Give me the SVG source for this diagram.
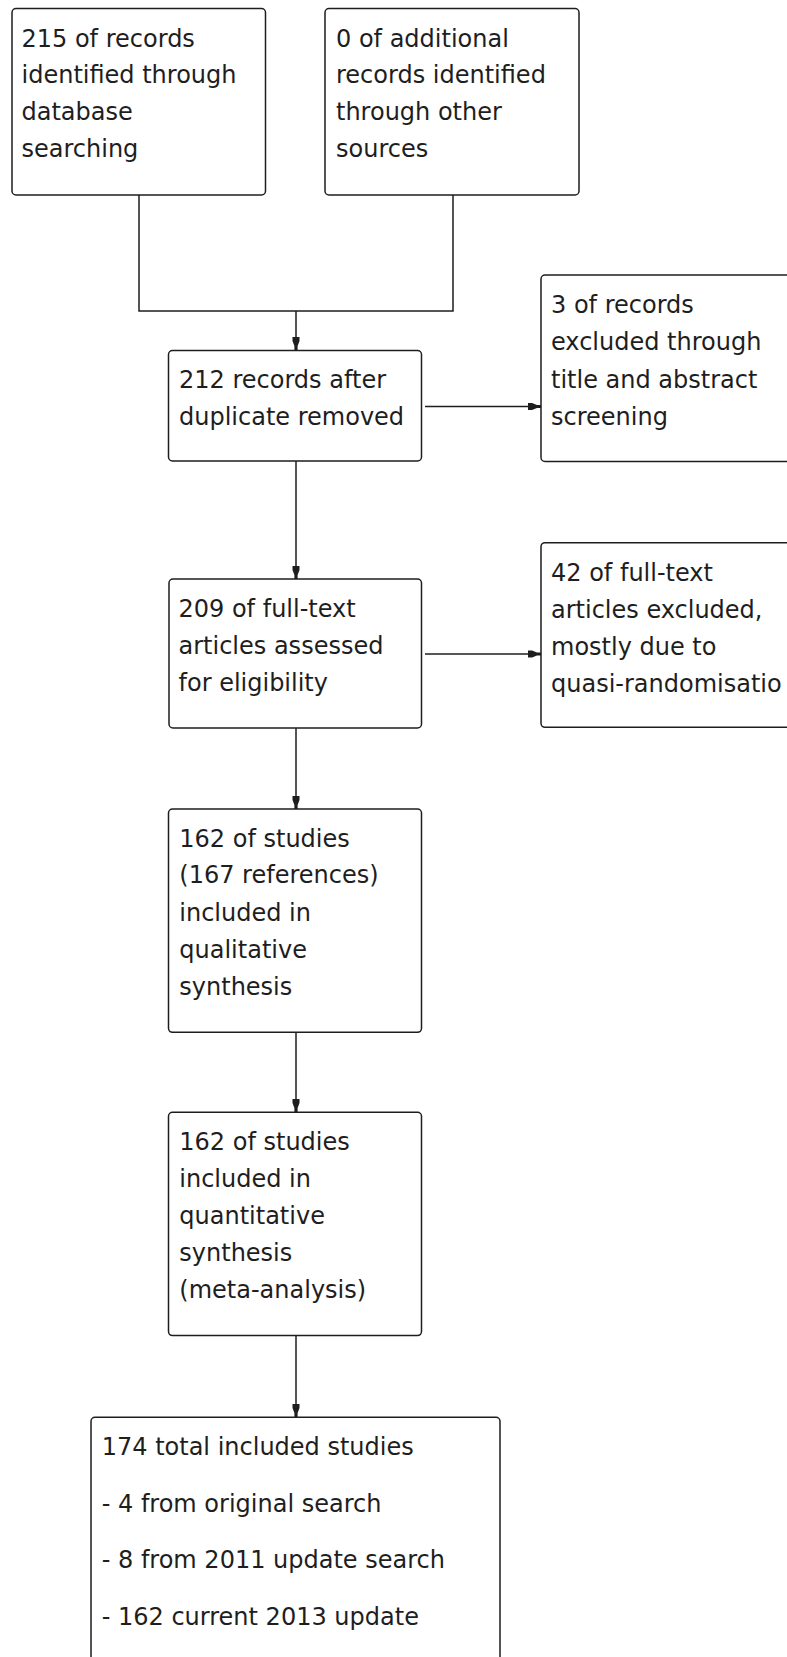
<svg xmlns="http://www.w3.org/2000/svg" width="787" height="1657" viewBox="0 0 787 1657">
<defs>
<style>
.box{fill:#ffffff;stroke:#1e1e1e;stroke-width:1.5}
.t{font-family:"DejaVu Sans","Liberation Sans",sans-serif;font-size:24px;fill:#1e1e1e}
.c{fill:none;stroke:#1e1e1e;stroke-width:1.5}
</style>
<marker id="ah" viewBox="-14 -4 15 8" refX="0" refY="0" markerWidth="15" markerHeight="8" markerUnits="userSpaceOnUse" orient="auto">
<path d="M-13,-3.5 L-13,3.5 L-9,3.5 L-4,1.6 L0,1.6 L0,-1.6 L-4,-1.6 L-9,-3.5 Z" fill="#1e1e1e"/>
</marker>
</defs>
<rect width="787" height="1657" fill="#ffffff"/>
<g id="connectors">
<polyline class="c" points="139,195 139,311 453,311 453,195"/>
<line class="c" x1="296" y1="311" x2="296" y2="350" marker-end="url(#ah)"/>
<line class="c" x1="425" y1="406.5" x2="541" y2="406.5" marker-end="url(#ah)"/>
<line class="c" x1="296" y1="461" x2="296" y2="579" marker-end="url(#ah)"/>
<line class="c" x1="425" y1="654" x2="541" y2="654" marker-end="url(#ah)"/>
<line class="c" x1="296" y1="728" x2="296" y2="809" marker-end="url(#ah)"/>
<line class="c" x1="296" y1="1032" x2="296" y2="1112" marker-end="url(#ah)"/>
<line class="c" x1="296" y1="1335.5" x2="296" y2="1417" marker-end="url(#ah)"/>
</g>
<g id="n1">
<rect class="box" x="12" y="8.5" width="253.5" height="186.5" rx="4"/>
<text class="t" x="21.5" y="46.5"><tspan x="21.5">215 of records</tspan><tspan x="21.5" dy="36.7">identified through</tspan><tspan x="21.5" dy="36.7">database</tspan><tspan x="21.5" dy="36.7">searching</tspan></text>
</g>
<g id="n2">
<rect class="box" x="325" y="8.5" width="254" height="186.5" rx="4"/>
<text class="t" x="336" y="46.5"><tspan x="336">0 of additional</tspan><tspan x="336" dy="36.7">records identified</tspan><tspan x="336" dy="36.7">through other</tspan><tspan x="336" dy="36.7">sources</tspan></text>
</g>
<g id="n3">
<rect class="box" x="168.5" y="350.5" width="253" height="110.5" rx="4"/>
<text class="t" x="179" y="388"><tspan x="179">212 records after</tspan><tspan x="179" dy="36.7">duplicate removed</tspan></text>
</g>
<g id="n4">
<rect class="box" x="541" y="275" width="270" height="186.5" rx="4"/>
<text class="t" x="551" y="313.3"><tspan x="551">3 of records</tspan><tspan x="551" dy="37">excluded through</tspan><tspan x="551" dy="37.3">title and abstract</tspan><tspan x="551" dy="37.3">screening</tspan></text>
</g>
<g id="n5">
<rect class="box" x="169" y="579" width="252.5" height="149" rx="4"/>
<text class="t" x="178.5" y="616.7"><tspan x="178.5">209 of full-text</tspan><tspan x="178.5" dy="37.3">articles assessed</tspan><tspan x="178.5" dy="37">for eligibility</tspan></text>
</g>
<g id="n6">
<rect class="box" x="541" y="542.7" width="270" height="184.6" rx="4"/>
<text class="t" x="551" y="581"><tspan x="551">42 of full-text</tspan><tspan x="551" dy="37">articles excluded,</tspan><tspan x="551" dy="37">mostly due to</tspan><tspan x="551" dy="37.3">quasi-randomisatio</tspan></text>
</g>
<g id="n7">
<rect class="box" x="168.5" y="809" width="253" height="223.3" rx="4"/>
<text class="t" x="179.3" y="846.7"><tspan x="179.3">162 of studies</tspan><tspan x="179.3" dy="36.7">(167 references)</tspan><tspan x="179.3" dy="37.3">included in</tspan><tspan x="179.3" dy="37.3">qualitative</tspan><tspan x="179.3" dy="37">synthesis</tspan></text>
</g>
<g id="n8">
<rect class="box" x="168.5" y="1112.3" width="253" height="223.3" rx="4"/>
<text class="t" x="179.3" y="1150"><tspan x="179.3">162 of studies</tspan><tspan x="179.3" dy="36.8">included in</tspan><tspan x="179.3" dy="37.2">quantitative</tspan><tspan x="179.3" dy="37.4">synthesis</tspan><tspan x="179.3" dy="36.9">(meta-analysis)</tspan></text>
</g>
<g id="n9">
<rect class="box" x="91" y="1417.3" width="409" height="300" rx="4"/>
<text class="t" x="101.7" y="1455"><tspan x="101.7">174 total included studies</tspan><tspan x="101.7" dy="56.7">- 4 from original search</tspan><tspan x="101.7" dy="56.6">- 8 from 2011 update search</tspan><tspan x="101.7" dy="56.7">- 162 current 2013 update</tspan></text>
</g>
</svg>
